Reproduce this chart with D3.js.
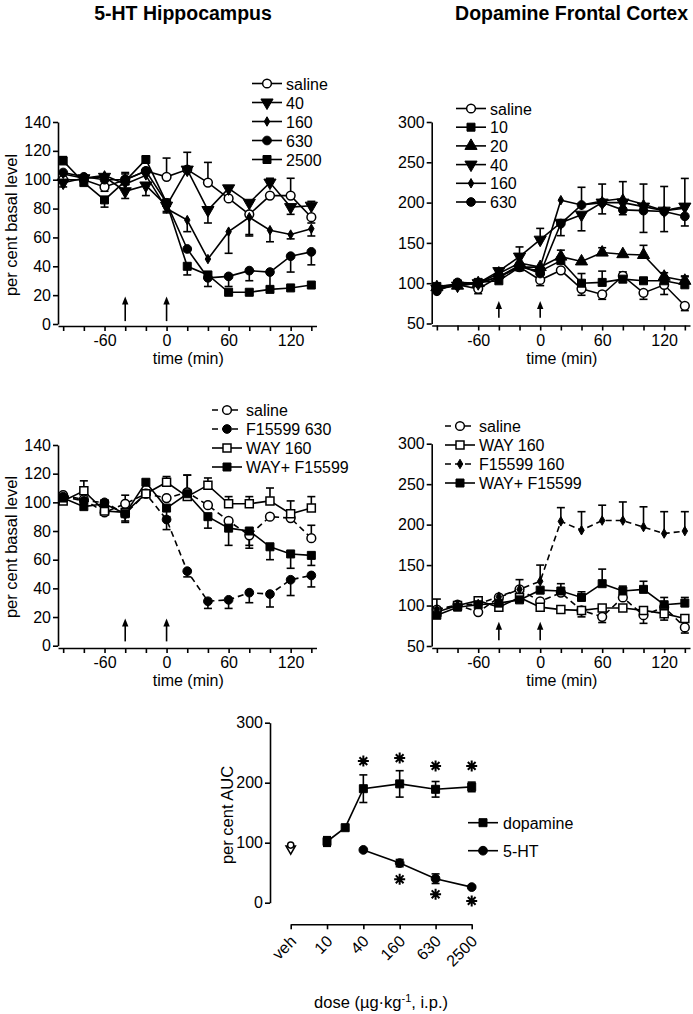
<!DOCTYPE html>
<html lang="en">
<head>
<meta charset="UTF-8">
<title>F15599 microdialysis</title>
<script src="https://cdn.jsdelivr.net/npm/d3@7"></script>
<style>
    body { margin: 0; background: #fff; }
    svg { font-family: "Liberation Sans", Arial, sans-serif; }
    .axis path, .axis line { stroke: #000; stroke-width: 1.6; }
    .axis text { font-size: 16px; fill: #000; }
</style>
</head>
<body>
<svg id="fig" width="693" height="1014"></svg>
<script>
// sample times (min)
var times = [-100, -80, -60, -40, -20, 0, 20, 40, 60, 80, 100, 120, 140];
var timeLabels = [-60, 0, 60, 120];
var arrowTimes = [-40, 0];

// error values: SEM, sign = direction the bar is drawn (+ up, - down), 0 = hidden

// 5-HT hippocampus, F15599 doses
var hipSal = [100, 100, 95, 100, 106, 102, 107, 98, 87, 76, 89, 89, 74];
var hipSalErr = [0, 0, -3, 5, 0, 13, 0, 14, 0, -15, 0, 12, -4];
var hip40 = [98, 101, 102, 92, 96, 82, 107, 79, 94, 84, 98, 81, 82];
var hip40Err = [-3, 0, 0, -5, -7, 0, 12, -9, 0, 0, 3, -5, 3];
var hip160 = [104, 101, 103, 97, 103, 80, 72, 45, 64, 74, 65, 62, 66];
var hip160Err = [0, 0, 0, 0, 0, -3, -8, 0, -15, -12, -8, -3, -5];
var hip630 = [105, 102, 100, 100, 106, 84, 52, 32, 33, 37, 36, 47, 50];
var hip630Err = [0, 0, 0, 0, 0, 0, 0, 0, -7, -7, -11, -11, -9];
var hip2500 = [113, 98, 86, 99, 114, 84, 40, 34, 22, 22, 24, 25, 27];
var hip2500Err = [3, 0, -5, 5, 2, -6, -6, -8, 0, 0, 0, 0, 0];

// dopamine frontal cortex, F15599 doses
var daSal = [94, 98, 93, 108, 120, 104, 116, 93, 86, 109, 88, 98, 72];
var daSalErr = [3, 0, -6, 0, 0, -7, 0, -8, -6, 5, -8, -12, -6];
var da10 = [96, 99, 101, 103, 120, 115, 128, 100, 101, 105, 103, 103, 98];
var da10Err = [0, 0, 0, 8, 0, 0, 0, 12, 14, 0, 0, 0, 10];
var da20 = [95, 97, 100, 112, 125, 120, 133, 127, 138, 136, 135, 108, 103];
var da20Err = [0, 0, 0, 0, 0, 0, 8, 0, 6, 0, 12, 5, 6];
var da40 = [93, 97, 100, 115, 133, 154, 175, 185, 200, 200, 195, 190, 195];
var da40Err = [0, 0, 0, 0, 12, 14, 0, -20, 0, 0, 0, 0, 0];
var da160 = [96, 98, 100, 108, 120, 120, 203, 197, 202, 205, 198, 190, 193];
var da160Err = [0, 0, 0, 0, 0, 0, 0, 22, 21, 21, 25, 30, 37];
var da630 = [90, 101, 100, 108, 122, 112, 174, 197, 200, 191, 190, 189, 183];
var da630Err = [0, 0, 0, 0, 0, 0, -15, 0, -14, -6, -27, -25, -12];

// 5-HT hippocampus, WAY100635 antagonism
var hwSal = [105, 102, 93, 99, 106, 103, 107, 98, 87, 77, 90, 89, 75];
var hwSalErr = [0, 0, 0, 6, 0, 0, 12, 0, -5, -9, 0, 0, 9];
var hwF630 = [104, 101, 100, 92, 106, 88, 52, 31, 32, 37, 36, 46, 49];
var hwF630Err = [0, 0, 0, -6, 0, -7, -4, -5, -6, -7, -9, -11, -8];
var hwWay = [101, 108, 94, 93, 106, 114, 104, 112, 99, 99, 101, 92, 96];
var hwWayErr = [0, 7, 0, 0, 0, 4, 15, 5, 5, 5, 9, 9, 8];
var hwComb = [103, 97, 99, 92, 114, 96, 106, 90, 82, 80, 69, 64, 63];
var hwCombErr = [0, 0, 0, -5, 0, -6, 0, -8, -12, -10, -9, -10, -7];

// dopamine frontal cortex, WAY100635 antagonism
var dwSal = [95, 101, 92, 110, 120, 105, 116, 94, 86, 110, 88, 98, 73];
var dwSalErr = [0, 0, 0, 0, 12, 0, 0, -8, -7, 0, -10, 0, -7];
var dwWay = [92, 100, 106, 98, 110, 98, 95, 94, 97, 97, 94, 90, 84];
var dwWayErr = [0, 0, 0, 0, 0, -5, 0, 0, 0, 0, 0, -8, 0];
var dwF160 = [95, 100, 102, 111, 120, 130, 204, 193, 205, 205, 197, 189, 192];
var dwF160Err = [0, 0, 0, 0, 0, 20, 17, 23, 19, 23, 25, 27, 24];
var dwComb = [88, 98, 101, 103, 107, 119, 118, 110, 127, 118, 120, 101, 103];
var dwCombErr = [20, 0, 0, 0, 0, 0, 9, 7, 18, 6, 10, 9, 7];

// AUC dose-response (veh drawn at 2.5 on the log axis)
var doseTicks = [2.5, 10, 40, 160, 630, 2500];
var doseLabels = ['veh', '10', '40', '160', '630', '2500'];
var daDose = [10, 20, 40, 160, 630, 2500];
var daAUC = [102, 125, 190, 198, 189, 193];
var daAUCErr = [8, 0, 23, 22, 13, 8];
var htDose = [40, 160, 630, 2500];
var htAUC = [88, 66, 40, 26];
var htAUCErr = [0, 6, 8, 2];
var vehDA = 90, vehHT = 96;
var daSigDose = [40, 160, 630, 2500], daSigY = [236, 241, 228, 228];
var htSigDose = [160, 630, 2500], htSigY = [39, 14, 3];

var svg = d3.select('#fig');

var shapes = {
    circle: { type: d3.symbolCircle, size: 60, rot: 0 },
    square: { type: d3.symbolSquare, size: 64, rot: 0 },
    triUp: { type: d3.symbolTriangle, size: 64, rot: 0 },
    triDown: { type: d3.symbolTriangle, size: 64, rot: 180 },
    diamond: { type: d3.symbolDiamond, size: 26, rot: 0 }
};

function marker(g, shape, open, x, y, scale) {
    var s = shapes[shape];
    g.append('path')
        .attr('d', d3.symbol().type(s.type).size(s.size * (scale || 1))())
        .attr('transform', 'translate(' + x + ',' + y + ') rotate(' + s.rot + ')')
        .attr('fill', open ? '#fff' : '#000')
        .attr('stroke', '#000')
        .attr('stroke-width', open ? 1.5 : 1);
}

function errBar(g, x, y0, y1) {
    g.append('line').attr('x1', x).attr('x2', x).attr('y1', y0).attr('y2', y1)
        .attr('stroke', '#000').attr('stroke-width', 1.6);
    g.append('line').attr('x1', x - 4).attr('x2', x + 4).attr('y1', y1).attr('y2', y1)
        .attr('stroke', '#000').attr('stroke-width', 1.6);
}

function asterisk(g, x, y) {
    var r = 5.5, d = '';
    [0, 45, 90, 135].forEach(function (a) {
        var c = Math.cos(a * Math.PI / 180) * r, s = Math.sin(a * Math.PI / 180) * r;
        d += 'M' + (x - c) + ',' + (y - s) + 'L' + (x + c) + ',' + (y + s);
    });
    g.append('path').attr('d', d).attr('stroke', '#000').attr('stroke-width', 2);
}

function timePanel(p) {
    var g = svg.append('g');
    var x = d3.scaleLinear().domain([-105, 145]).range(p.xr);
    var y = d3.scaleLinear().domain(p.yd).range(p.yr);

    g.append('g').attr('class', 'axis')
        .attr('transform', 'translate(' + p.xr[0] + ',0)')
        .call(d3.axisLeft(y).tickValues(p.yt).tickSize(5).tickSizeOuter(0).tickPadding(2));
    g.append('g').attr('class', 'axis')
        .attr('transform', 'translate(0,' + p.xAxisY + ')')
        .call(d3.axisBottom(x).tickValues(times).tickSize(5).tickSizeOuter(0).tickPadding(4)
            .tickFormat(function (d) { return timeLabels.indexOf(d) >= 0 ? String(d) : ''; }));

    // injection arrows
    arrowTimes.forEach(function (t) {
        var ax = x(t), yb = y(p.arrow[0]), yt = y(p.arrow[1]);
        g.append('line').attr('x1', ax).attr('x2', ax).attr('y1', yb).attr('y2', yt + 6)
            .attr('stroke', '#000').attr('stroke-width', 1.6);
        g.append('path').attr('d', 'M' + ax + ',' + yt + 'L' + (ax - 3.2) + ',' + (yt + 8) + 'L' + (ax + 3.2) + ',' + (yt + 8) + 'Z')
            .attr('fill', '#000');
    });

    var line = d3.line().x(function (d, i) { return x(times[i]); }).y(function (d) { return y(d); });
    p.series.forEach(function (s) {
        g.append('path').datum(s.vals).attr('d', line)
            .attr('fill', 'none').attr('stroke', '#000').attr('stroke-width', 1.6)
            .attr('stroke-dasharray', s.dash ? '6,4' : null);
    });
    p.series.forEach(function (s) {
        s.err.forEach(function (e, i) {
            if (e) errBar(g, x(times[i]), y(s.vals[i]), y(s.vals[i] + e));
        });
    });
    p.series.forEach(function (s) {
        s.vals.forEach(function (v, i) { marker(g, s.shape, s.open, x(times[i]), y(v)); });
    });

    // legend
    p.series.forEach(function (s, i) {
        var ly = p.leg[1] + i * p.leg[2], lx = p.leg[0];
        g.append('line').attr('x1', lx).attr('x2', lx + 30).attr('y1', ly).attr('y2', ly)
            .attr('stroke', '#000').attr('stroke-width', 1.6)
            .attr('stroke-dasharray', s.dash ? '6,4' : null);
        marker(g, s.shape, s.open, lx + 15, ly);
        g.append('text').attr('x', lx + 34).attr('y', ly + 6).attr('font-size', 16).text(s.name);
    });

    var cx = (p.xr[0] + p.xr[1]) / 2;
    g.append('text').attr('x', cx + 1).attr('y', p.xAxisY + 38).attr('text-anchor', 'middle')
        .attr('font-size', 16).text('time (min)');
    if (p.ylab) {
        g.append('text').attr('transform', 'translate(17,' + p.ylab + ') rotate(-90)')
            .attr('text-anchor', 'middle').attr('font-size', 16.5).text('per cent basal level');
    }
}

var leftX = [58, 316.5], rightX = [431.7, 690];

timePanel({
    xr: leftX, yd: [0, 140], yr: [324, 122], yt: d3.range(0, 141, 20), xAxisY: 326,
    arrow: [2, 19], leg: [252, 83.5, 19], ylab: 225,
    series: [
        { name: 'saline', vals: hipSal, err: hipSalErr, shape: 'circle', open: true },
        { name: '40', vals: hip40, err: hip40Err, shape: 'triDown' },
        { name: '160', vals: hip160, err: hip160Err, shape: 'diamond' },
        { name: '630', vals: hip630, err: hip630Err, shape: 'circle' },
        { name: '2500', vals: hip2500, err: hip2500Err, shape: 'square' }
    ]
});

timePanel({
    xr: rightX, yd: [50, 300], yr: [323.5, 122], yt: d3.range(50, 301, 50), xAxisY: 325.5,
    arrow: [57, 78], leg: [456, 108.5, 18.7],
    series: [
        { name: 'saline', vals: daSal, err: daSalErr, shape: 'circle', open: true },
        { name: '10', vals: da10, err: da10Err, shape: 'square' },
        { name: '20', vals: da20, err: da20Err, shape: 'triUp' },
        { name: '40', vals: da40, err: da40Err, shape: 'triDown' },
        { name: '160', vals: da160, err: da160Err, shape: 'diamond' },
        { name: '630', vals: da630, err: da630Err, shape: 'circle' }
    ]
});

timePanel({
    xr: leftX, yd: [0, 140], yr: [645.7, 445], yt: d3.range(0, 141, 20), xAxisY: 648,
    arrow: [3, 19], leg: [212, 410, 19], ylab: 547,
    series: [
        { name: 'saline', vals: hwSal, err: hwSalErr, shape: 'circle', open: true, dash: true },
        { name: 'F15599 630', vals: hwF630, err: hwF630Err, shape: 'circle', dash: true },
        { name: 'WAY 160', vals: hwWay, err: hwWayErr, shape: 'square', open: true },
        { name: 'WAY+ F15599', vals: hwComb, err: hwCombErr, shape: 'square' }
    ]
});

timePanel({
    xr: rightX, yd: [50, 300], yr: [646, 443.7], yt: d3.range(50, 301, 50), xAxisY: 648,
    arrow: [57, 80], leg: [445, 426, 19],
    series: [
        { name: 'saline', vals: dwSal, err: dwSalErr, shape: 'circle', open: true, dash: true },
        { name: 'WAY 160', vals: dwWay, err: dwWayErr, shape: 'square', open: true },
        { name: 'F15599 160', vals: dwF160, err: dwF160Err, shape: 'diamond', dash: true },
        { name: 'WAY+ F15599', vals: dwComb, err: dwCombErr, shape: 'square' }
    ]
});

// column titles
svg.append('text').attr('x', 183).attr('y', 20).attr('text-anchor', 'middle')
    .attr('font-size', 19.5).attr('font-weight', 'bold').text('5-HT Hippocampus');
svg.append('text').attr('x', 688).attr('y', 20).attr('text-anchor', 'end')
    .attr('font-size', 19.5).attr('font-weight', 'bold').text('Dopamine Frontal Cortex');

// AUC panel
(function () {
    var g = svg.append('g');
    var x = d3.scaleLog().domain([2.5, 2500]).range([290.7, 471.7]);
    var y = d3.scaleLinear().domain([0, 300]).range([902.7, 722.7]);

    g.append('g').attr('class', 'axis').attr('transform', 'translate(270,0)')
        .call(d3.axisLeft(y).tickValues([0, 100, 200, 300]).tickSize(5).tickSizeOuter(0).tickPadding(2));
    var xa = g.append('g').attr('class', 'axis').attr('transform', 'translate(0,924.3)')
        .call(d3.axisBottom(x).tickValues(doseTicks).tickSize(5).tickSizeOuter(0)
            .tickFormat(function (d, i) { return doseLabels[i]; }));
    xa.selectAll('.tick text')
        .attr('text-anchor', 'end').attr('dy', null).attr('y', 0)
        .attr('transform', 'translate(6,18) rotate(-45)');

    var daLine = d3.line().x(function (d, i) { return x(daDose[i]); }).y(function (d) { return y(d); });
    var htLine = d3.line().x(function (d, i) { return x(htDose[i]); }).y(function (d) { return y(d); });
    g.append('path').datum(daAUC).attr('d', daLine).attr('fill', 'none').attr('stroke', '#000').attr('stroke-width', 1.6);
    g.append('path').datum(htAUC).attr('d', htLine).attr('fill', 'none').attr('stroke', '#000').attr('stroke-width', 1.6);
    daAUC.forEach(function (v, i) {
        if (daAUCErr[i]) {
            errBar(g, x(daDose[i]), y(v), y(v + daAUCErr[i]));
            errBar(g, x(daDose[i]), y(v), y(v - daAUCErr[i]));
        }
        marker(g, 'square', false, x(daDose[i]), y(v));
    });
    htAUC.forEach(function (v, i) {
        if (htAUCErr[i]) {
            errBar(g, x(htDose[i]), y(v), y(v + htAUCErr[i]));
            errBar(g, x(htDose[i]), y(v), y(v - htAUCErr[i]));
        }
        marker(g, 'circle', false, x(htDose[i]), y(v));
    });
    marker(g, 'triDown', true, x(doseTicks[0]), y(vehDA), 0.6);
    marker(g, 'circle', true, x(doseTicks[0]), y(vehHT), 0.5);

    daSigDose.forEach(function (d, i) { asterisk(g, x(d), y(daSigY[i])); });
    htSigDose.forEach(function (d, i) { asterisk(g, x(d), y(htSigY[i])); });

    // legend
    [['dopamine', 'square'], ['5-HT', 'circle']].forEach(function (r, i) {
        var ly = 822.7 + i * 28;
        g.append('line').attr('x1', 468).attr('x2', 498).attr('y1', ly).attr('y2', ly)
            .attr('stroke', '#000').attr('stroke-width', 1.6);
        marker(g, r[1], false, 483, ly);
        g.append('text').attr('x', 503).attr('y', ly + 6).attr('font-size', 16).text(r[0]);
    });

    g.append('text').attr('transform', 'translate(233,815) rotate(-90)')
        .attr('text-anchor', 'middle').attr('font-size', 16.5).text('per cent AUC');
    var xl = g.append('text').attr('x', 381).attr('y', 1008).attr('text-anchor', 'middle')
        .attr('font-size', 16.5);
    xl.append('tspan').text('dose (\u00b5g\u00b7kg');
    xl.append('tspan').attr('dy', -6).attr('font-size', 11).text('-1');
    xl.append('tspan').attr('dy', 6).text(', i.p.)');
})();
</script>
</body>
</html>
